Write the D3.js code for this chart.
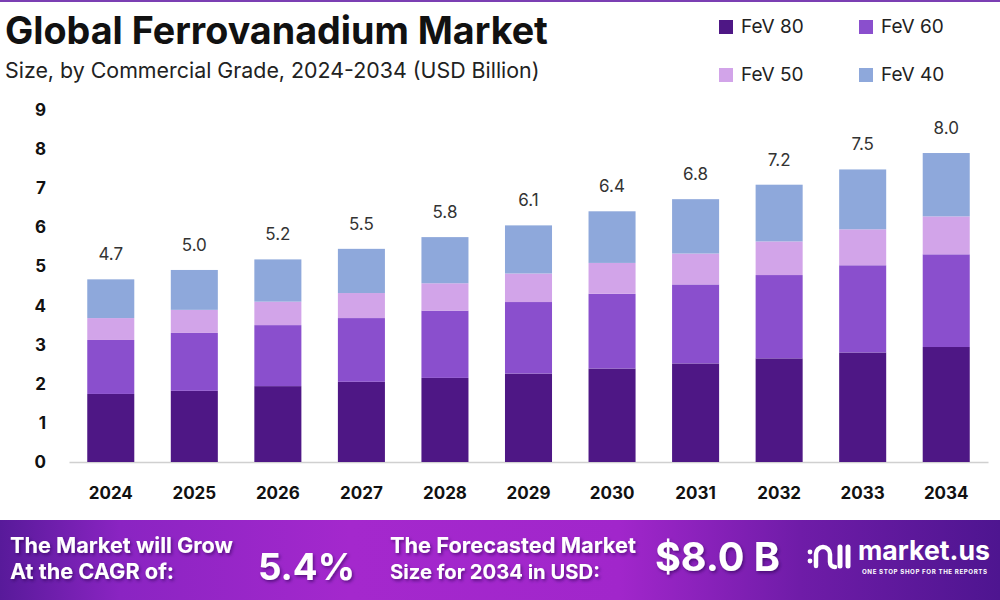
<!DOCTYPE html>
<html>
<head>
<meta charset="utf-8">
<script src="https://cdn.jsdelivr.net/npm/d3@7/dist/d3.min.js"></script>
<style>
  html,body{margin:0;padding:0;background:#fff;}
  svg{display:block;}
</style>
</head>
<body>
<svg id="chart" width="1000" height="600"></svg>
<script>
const years = ['2024','2025','2026','2027','2028','2029','2030','2031','2032','2033','2034'];
const fev80 = [1.74,1.82,1.94,2.05,2.15,2.26,2.39,2.52,2.65,2.80,2.94];
const fev60 = [1.38,1.48,1.56,1.63,1.72,1.83,1.91,2.02,2.13,2.23,2.37];
const fev50 = [0.56,0.59,0.60,0.64,0.70,0.73,0.79,0.79,0.86,0.92,0.97];
const fev40 = [0.99,1.02,1.08,1.13,1.18,1.23,1.32,1.39,1.45,1.53,1.62];
const totalLabels = ['4.7','5.0','5.2','5.5','5.8','6.1','6.4','6.8','7.2','7.5','8.0'];
const seriesNames = ['FeV 80','FeV 60','FeV 50','FeV 40'];
const yTicks = [0,1,2,3,4,5,6,7,8,9];

const colors = {'FeV 80':'#4e1785','FeV 60':'#8a4fcd','FeV 50':'#d2a4e9','FeV 40':'#8ea8db'};
const FONT = "Inter, 'Open Sans', sans-serif";

const svg = d3.select('#chart');

function fit(sel, w){
  const n = sel.node();
  const len = n.getComputedTextLength();
  const fs = parseFloat(sel.attr('font-size'));
  sel.attr('font-size', (fs * w / len).toFixed(2));
}

const defs = svg.append('defs');
const grad = defs.append('linearGradient').attr('id','bannerGrad').attr('x1','0').attr('x2','1').attr('y1','0').attr('y2','0');
[[0,'#581a9a'],[0.12,'#8a24c2'],[0.35,'#a428cd'],[0.62,'#a126cb'],[0.8,'#6f1ca8'],[1,'#4e1590']].forEach(([o,c])=>{
  grad.append('stop').attr('offset',o).attr('stop-color',c);
});
const shadow = defs.append('filter').attr('id','tshadow').attr('x','-10%').attr('y','-20%').attr('width','120%').attr('height','150%');
shadow.append('feDropShadow').attr('dx',1.5).attr('dy',2).attr('stdDeviation',1.5).attr('flood-color','#2a0650').attr('flood-opacity',0.55);

svg.append('rect').attr('x',0).attr('y',0).attr('width',1000).attr('height',2).attr('fill','#7b3fb3');

const title = svg.append('text').attr('x',5).attr('y',44).attr('font-family',FONT).attr('font-weight',700)
  .attr('font-size',32).attr('fill','#111').text('Global Ferrovanadium Market');
fit(title, 543);
const sub = svg.append('text').attr('x',5).attr('y',78).attr('font-family',FONT).attr('font-weight',400)
  .attr('font-size',19).attr('fill','#222').text('Size, by Commercial Grade, 2024-2034 (USD Billion)');
fit(sub, 535);

const legendPos = [[719,20],[859,20],[719,68],[859,68]];
seriesNames.forEach((s,i)=>{
  const [lx,ly] = legendPos[i];
  svg.append('rect').attr('x',lx).attr('y',ly).attr('width',14).attr('height',14).attr('fill',colors[s]);
  svg.append('text').attr('x',lx+22).attr('y',ly+13).attr('font-family',FONT).attr('font-size',19)
    .attr('fill','#222').text(s);
});

const x = d3.scaleBand().domain(years).range([69,988]).paddingInner(0.437).paddingOuter(0.2185);
const y = d3.scaleLinear().domain([0,9]).range([462,110]);

const rows = years.map((yr,i)=>({year:yr,'FeV 80':fev80[i],'FeV 60':fev60[i],'FeV 50':fev50[i],'FeV 40':fev40[i]}));
const stacked = d3.stack().keys(seriesNames)(rows);

const yAxis = svg.append('g').attr('transform','translate(46,0)')
  .call(d3.axisLeft(y).tickValues(yTicks).tickSize(0).tickPadding(0).tickFormat(d3.format('d')));
yAxis.select('.domain').remove();
yAxis.selectAll('text').attr('font-family',FONT).attr('font-weight',700).attr('font-size',17).attr('fill','#111');

const xAxis = svg.append('g').attr('transform','translate(0,462)')
  .call(d3.axisBottom(x).tickSize(0).tickSizeOuter(0).tickPadding(25));
xAxis.select('.domain').attr('stroke','#d0d0d0').attr('stroke-width',1.5);
xAxis.selectAll('text').attr('font-family',FONT).attr('font-weight',700).attr('font-size',17).attr('fill','#111');

svg.append('g').selectAll('g').data(stacked).join('g')
  .attr('fill',d=>colors[d.key])
  .selectAll('rect').data(d=>d).join('rect')
  .attr('x',d=>x(d.data.year))
  .attr('width',x.bandwidth())
  .attr('y',d=>y(d[1]))
  .attr('height',d=>y(d[0])-y(d[1]));

const topSeries = stacked[stacked.length-1];
svg.append('g').selectAll('text').data(topSeries).join('text')
  .attr('x',d=>x(d.data.year)+x.bandwidth()/2)
  .attr('y',d=>y(d[1])-19)
  .attr('text-anchor','middle')
  .attr('font-family',FONT).attr('font-size',17).attr('fill','#333')
  .text((d,i)=>totalLabels[i]);

svg.append('rect').attr('x',0).attr('y',520).attr('width',1000).attr('height',80).attr('fill','url(#bannerGrad)');

const bt = svg.append('g').attr('fill','#fff').attr('font-family',FONT).attr('font-weight',700).attr('filter','url(#tshadow)');
const l1 = bt.append('text').attr('x',10).attr('y',553).attr('font-size',20).text('The Market will Grow'); fit(l1,223);
const l2 = bt.append('text').attr('x',10).attr('y',579).attr('font-size',20).text('At the CAGR of:'); fit(l2,164);
const big1 = bt.append('text').attr('x',258).attr('y',580).attr('font-size',40).text('5.4%'); fit(big1,97);
const l3 = bt.append('text').attr('x',390).attr('y',553).attr('font-size',20).text('The Forecasted Market'); fit(l3,246);
const l4 = bt.append('text').attr('x',390).attr('y',579).attr('font-size',20).text('Size for 2034 in USD:'); fit(l4,210);
const big2 = bt.append('text').attr('x',655).attr('y',571).attr('font-size',38).text('$8.0 B'); fit(big2,125);

const logo = svg.append('g').attr('fill','none').attr('stroke','#fff').attr('stroke-linecap','round');
logo.append('circle').attr('cx',810).attr('cy',552).attr('r',2.4).attr('fill','#fff').attr('stroke','none');
logo.append('circle').attr('cx',810).attr('cy',561).attr('r',2.4).attr('fill','#fff').attr('stroke','none');
logo.append('path').attr('d','M816,566 V554 A7,7 0 0 1 830,554 V562 A5,5 0 0 0 835,567').attr('stroke-width',4.5);
logo.append('line').attr('x1',840).attr('x2',840).attr('y1',547).attr('y2',566).attr('stroke-width',5);
logo.append('line').attr('x1',848).attr('x2',848).attr('y1',547).attr('y2',566).attr('stroke-width',5);
const mk = svg.append('text').attr('x',858).attr('y',560).attr('font-family',FONT).attr('font-weight',700)
  .attr('font-size',27).attr('fill','#fff').text('market.us'); fit(mk,132);
const tag = svg.append('text').attr('x',862).attr('y',574).attr('font-family',FONT).attr('font-weight',700)
  .attr('font-size',5.5).attr('fill','#fff').attr('letter-spacing',0.6).text('ONE STOP SHOP FOR THE REPORTS'); fit(tag,128);
</script>
</body>
</html>
